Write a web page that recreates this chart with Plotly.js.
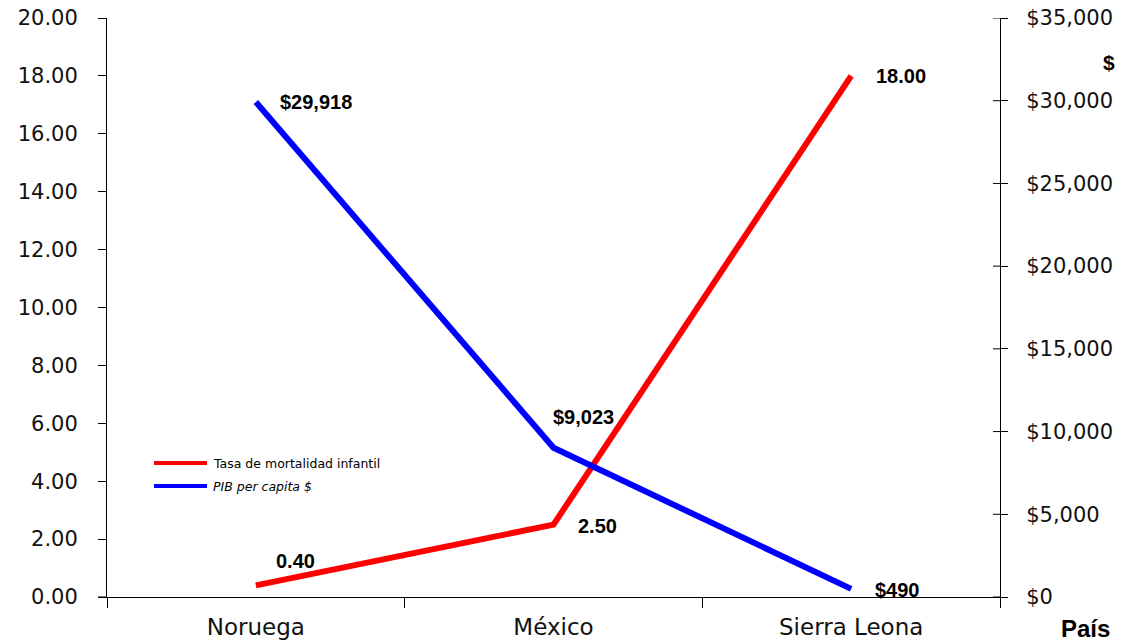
<!DOCTYPE html>
<html>
<head>
<meta charset="utf-8">
<script src="https://cdn.plot.ly/plotly-3.0.1.min.js"></script>
<style>html,body{margin:0;padding:0;background:#fff;}#chart{width:1131px;height:643px;}</style>
</head>
<body>
<div id="chart"></div>
<script>
// ---- data ----
const paises = ["Noruega", "México", "Sierra Leona"];
const mortalidad = [0.40, 2.50, 18.00];
const pib = [29918, 9023, 490];
const nombreMortalidad = "Tasa de mortalidad infantil";
const nombrePib = "PIB per capita $";
const y2Ticks = [0, 5000, 10000, 15000, 20000, 25000, 30000, 35000];

// ---- label offsets (style) ----
const mortShift = [[20, 24], [24, -1], [25, 0]];
const pibShift = [[24, 0], [-1, 31], [24, -1]];

const fmtMoney = v => "$" + v.toLocaleString("en-US");

const traces = [
  {x: paises, y: mortalidad, type: "scatter", mode: "lines", name: nombreMortalidad,
   line: {color: "#FF0000", width: 6}, yaxis: "y", showlegend: false},
  {x: paises, y: pib, type: "scatter", mode: "lines", name: nombrePib,
   line: {color: "#0000FF", width: 6}, yaxis: "y2", showlegend: false}
];

const labelFont = {family: "Liberation Sans, Arial, sans-serif", size: 20, color: "#000"};
const annotations = [];
paises.forEach((p, i) => {
  annotations.push({x: p, y: mortalidad[i], xref: "x", yref: "y", text: "<b>" + mortalidad[i].toFixed(2) + "</b>",
    showarrow: false, xanchor: "left", yanchor: "middle", xshift: mortShift[i][0] - 2, yshift: mortShift[i][1], font: labelFont});
  annotations.push({x: p, y: pib[i], xref: "x", yref: "y2", text: "<b>" + fmtMoney(pib[i]) + "</b>",
    showarrow: false, xanchor: "left", yanchor: "middle", xshift: pibShift[i][0] - 2, yshift: pibShift[i][1], font: labelFont});
});
annotations.push({x: 1, y: 1, xref: "paper", yref: "paper", text: "<b>$</b>", showarrow: false,
  xanchor: "left", yanchor: "middle", xshift: 101, yshift: -44, font: {family: "Liberation Sans, Arial, sans-serif", size: 21, color: "#000"}});
annotations.push({x: 1, y: 0, xref: "paper", yref: "paper", text: "<b>País</b>", showarrow: false,
  xanchor: "left", yanchor: "middle", xshift: 59, yshift: -31, font: {family: "Liberation Sans, Arial, sans-serif", size: 24, color: "#000"}});

// manual legend (paper coords from plot-area pixels: w=893, h=579)
const legendItems = [{name: nombreMortalidad, color: "#FF0000", py: 463, italic: false},
                     {name: nombrePib, color: "#0000FF", py: 486, italic: true}];
const px2x = p => (p - 107) / 893, py2y = p => (597 - p) / 579;
const shapes = [];
legendItems.forEach(it => {
  shapes.push({type: "line", xref: "paper", yref: "paper", x0: px2x(154), x1: px2x(207), y0: py2y(it.py), y1: py2y(it.py),
    line: {color: it.color, width: 4}});
  annotations.push({x: px2x(211), y: py2y(it.py), xref: "paper", yref: "paper", showarrow: false, xanchor: "left", yanchor: "middle",
    text: it.italic ? "<i>" + it.name + "</i>" : it.name, font: {family: "DejaVu Sans, sans-serif", size: 12.5, color: "#000"}});
});

// inner halves of the crossing ticks on right axis
y2Ticks.forEach(v => shapes.push({type: "line", xref: "paper", yref: "y2", x0: 1 - 7 / 893, x1: 1, y0: v, y1: v,
  line: {color: "#000", width: 1}}));
// x axis line extension to the left
shapes.push({type: "line", xref: "paper", yref: "paper", x0: -9 / 893, x1: 0, y0: 0, y1: 0, line: {color: "#000", width: 1}});

const tickFont = {family: "DejaVu Sans, sans-serif", size: 21, color: "#111"};
const layout = {
  width: 1131, height: 643,
  margin: {l: 107, r: 131, t: 18, b: 46},
  paper_bgcolor: "#fff", plot_bgcolor: "#fff",
  showlegend: false,
  xaxis: {type: "category", tickson: "boundaries", ticks: "outside", ticklen: 10, tickcolor: "#000",
    showline: true, linecolor: "#000", linewidth: 1, showgrid: false, zeroline: false, ticklabelstandoff: 9,
    tickfont: {family: "DejaVu Sans, sans-serif", size: 23, color: "#111"}, range: [-0.5, 2.5], fixedrange: true},
  yaxis: {range: [0, 20], dtick: 2, tickformat: ".2f", ticks: "outside", ticklen: 8, tickcolor: "#000",
    showline: true, linecolor: "#000", linewidth: 1, showgrid: false, zeroline: false, tickfont: tickFont, ticklabelstandoff: 16},
  yaxis2: {overlaying: "y", side: "right", range: [0, 35000], tickvals: y2Ticks, ticktext: y2Ticks.map(fmtMoney),
    ticks: "outside", ticklen: 7, tickcolor: "#000", showline: true, linecolor: "#000", linewidth: 1,
    showgrid: false, zeroline: false, tickfont: tickFont, ticklabelstandoff: 14},
  annotations: annotations,
  shapes: shapes
};

Plotly.newPlot("chart", traces, layout, {displayModeBar: false, staticPlot: true});
</script>
</body>
</html>
